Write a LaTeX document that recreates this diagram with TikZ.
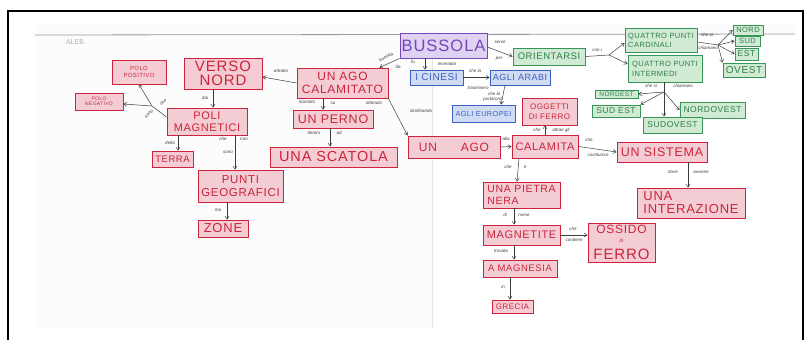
\documentclass[tikz,border=0pt]{standalone}
\usepackage{fontspec}
\setmainfont{Liberation Sans}
\newfontfamily\hand[LetterSpace=6]{Liberation Sans}
\usetikzlibrary{arrows.meta}
\definecolor{rline}{RGB}{205,35,60}
\definecolor{rfill}{RGB}{243,205,211}
\definecolor{gline}{RGB}{55,150,85}
\definecolor{gfill}{RGB}{208,234,212}
\definecolor{bline}{RGB}{60,95,195}
\definecolor{bfill}{RGB}{208,220,243}
\definecolor{pline}{RGB}{115,70,185}
\definecolor{pfill}{RGB}{224,210,243}
\definecolor{ink}{RGB}{60,60,60}
\tikzset{
  cbox/.style={draw, line width=0.9pt, inner sep=1pt, align=center},
  rbox/.style={cbox, draw=rline, fill=rfill, text=rline},
  gbox/.style={cbox, draw=gline, fill=gfill, text=gline!85!black},
  bbox/.style={cbox, draw=bline, fill=bfill, text=bline},
  pbox/.style={cbox, draw=pline, fill=pfill, text=pline},
  fs/.style 2 args={font=\hand\fontsize{#1}{#2}\selectfont},
  lab/.style={font=\itshape\fontsize{4.5}{5}\selectfont, text=ink, inner sep=0.3pt},
  conn/.style={draw=ink, line width=0.5pt},
  arr/.style={conn, -{Straight Barb[length=3pt,width=4pt]}},
}
\begin{document}
\begin{tikzpicture}[x=1pt,y=-1pt]
\useasboundingbox (0,0) rectangle (811,340);
% paper and frame
\fill[black!1.2] (35,23) rectangle (795,328);
\fill[white] (432,36) rectangle (795,328);
\draw[black!40, line width=0.8pt] (35,35) -- (795,34);
\draw[black!10, line width=0.6pt] (432,36) -- (432,328);
\draw[black, line width=1.6pt] (8,340) -- (8,11) -- (803,11) -- (803,340);
\node[text=black!30, font=\fontsize{7}{7}\selectfont] (aleb) at (76,42) {ALEB.};

% red nodes
\node[rbox, minimum width=54, minimum height=24, fs={6}{6.5}] (posit) at (139,72) {POLO\\POSITIVO};
\node[rbox, minimum width=78, minimum height=31, fs={15}{14}] (verso) at (223,73.5) {VERSO\\NORD};
\node[rbox, minimum width=48, minimum height=17, fs={5}{5.5}] (negat) at (99,101.5) {POLO\\NEGATIVO};
\node[rbox, minimum width=80, minimum height=27, fs={11}{11.5}] (poli) at (207,121.5) {POLI\\MAGNETICI};
\node[rbox, minimum width=91, minimum height=30, fs={12}{13}] (agocal) at (342.5,83) {UN AGO\\CALAMITATO};
\node[rbox, minimum width=80, minimum height=18, fs={12.5}{13}] (perno) at (333,119) {UN PERNO};
\node[rbox, minimum width=127, minimum height=20, fs={14.5}{15}] (scatola) at (333.5,157) {UNA SCATOLA};
\node[rbox, minimum width=41, minimum height=16, fs={9.5}{10}] (terra) at (172.5,159) {TERRA};
\node[rbox, minimum width=85, minimum height=32, fs={11.5}{13}] (punti) at (240.5,186) {PUNTI\\GEOGRAFICI};
\node[rbox, minimum width=50, minimum height=17, fs={13}{13}] (zone) at (223,228.5) {ZONE};
\node[rbox, minimum width=92, minimum height=22, fs={12}{12}] (unago) at (454,147) {UN\hspace{24pt}AGO};
\node[rbox, minimum width=66, minimum height=23, fs={11}{12}] (calamita) at (545,146.5) {CALAMITA};
\node[rbox, minimum width=90, minimum height=20, fs={12.5}{13}] (sistema) at (662,152) {UN SISTEMA};
\node[rbox, minimum width=108, minimum height=30, fs={13}{13}, align=left] (interaz) at (691,203) {UNA\\INTERAZIONE};
\node[rbox, minimum width=77, minimum height=26, fs={10.5}{12}, align=left] (pietra) at (521.5,195) {UNA PIETRA\\NERA};
\node[rbox, minimum width=77, minimum height=20, fs={11}{12}] (magnetite) at (521.5,235) {MAGNETITE};
\node[rbox, minimum width=67, minimum height=39, fs={12}{9}] (ossido) at (621.5,242.5) {OSSIDO\\{\fontsize{5}{5}\selectfont di}\\[5pt]{\fontsize{15}{15}\selectfont FERRO}};
\node[rbox, minimum width=74, minimum height=17, fs={9.5}{10}] (magnesia) at (520,268.5) {A MAGNESIA};
\node[rbox, minimum width=41, minimum height=13, fs={8}{8}] (grecia) at (512.5,306.5) {GRECIA};
\node[rbox, minimum width=55, minimum height=27, fs={8}{10}] (oggetti) at (549.5,111.5) {OGGETTI\\DI FERRO};

% purple and blue nodes
\node[pbox, minimum width=87, minimum height=25, fs={16.5}{17}] (bussola) at (443.5,45.5) {BUSSOLA};
\node[bbox, minimum width=53, minimum height=15, fs={10}{10}] (cinesi) at (436.5,77.5) {I CINESI};
\node[bbox, minimum width=60, minimum height=15, fs={9}{9}] (arabi) at (520,77.5) {AGLI ARABI};
\node[bbox, minimum width=63, minimum height=17, fs={7.3}{8}] (europei) at (483.5,113.5) {AGLI EUROPEI};

% green nodes
\node[gbox, minimum width=72, minimum height=17, fs={9.5}{10}] (orient) at (549,56.5) {ORIENTARSI};
\node[gbox, minimum width=72, minimum height=24, fs={7.5}{9}, align=left] (cardin) at (661,40) {QUATTRO PUNTI\\CARDINALI};
\node[gbox, minimum width=74, minimum height=27, fs={7.5}{10}, align=left] (interm) at (665,68.5) {QUATTRO PUNTI\\INTERMEDI};
\node[gbox, minimum width=30, minimum height=10, inner sep=0.5pt, fs={7.5}{7.5}] (nord) at (748,30) {NORD};
\node[gbox, minimum width=25, minimum height=10, inner sep=0.5pt, fs={7.5}{7.5}] (sud) at (747.5,41) {SUD};
\node[gbox, minimum width=23, minimum height=12, inner sep=0.5pt, fs={8.5}{8.5}] (est) at (746.5,54) {EST};
\node[gbox, minimum width=42, minimum height=14, fs={10}{10}] (ovest) at (744,70) {OVEST};
\node[gbox, minimum width=43, minimum height=8, inner sep=0.5pt, fs={6.5}{6.5}] (nordest) at (616.5,94) {NORDEST};
\node[gbox, minimum width=48, minimum height=12, inner sep=0.5pt, fs={8.5}{8.5}] (sudest) at (616,111) {SUD EST};
\node[gbox, minimum width=65, minimum height=16, fs={8.5}{9}] (nordovest) at (712.5,110) {NORDOVEST};
\node[gbox, minimum width=59, minimum height=16, fs={8.5}{9}] (sudovest) at (672.5,125) {SUDOVEST};

% connectors left half
\draw[arr] (agocal.west) -- (verso.east |- 0,77);
\node[lab] (l1) at (281,71) {attratto};
\draw[arr] (verso.south -| 213,0) -- (poli.north -| 213,0);
\node[lab] (l2) at (205,98) {dai};
\coordinate (fp) at (152,106);
\draw[conn] (poli.west |- 0,117) -- (fp);
\draw[arr] (fp) -- (posit.south -| 139,0);
\draw[arr] (fp) -- (negat.east |- 0,104);
\node[lab, rotate=40] (l3) at (163,102) {che};
\node[lab, rotate=40] (l4) at (149,114) {sono};
\draw[arr] (poli.south -| 178,0) -- (terra.north -| 178,0);
\node[lab] (l5) at (170,143) {della};
\draw[arr] (poli.south -| 235,0) -- (punti.north -| 235,0);
\node[lab] (l6) at (223,139) {che};
\node[lab] (l7) at (244,139) {non};
\node[lab] (l8) at (228,152) {sono};
\draw[arr] (punti.south -| 227,0) -- (zone.north -| 227,0);
\node[lab] (l9) at (218,210) {ma};
\draw[arr] (agocal.south -| 323,0) -- (perno.north -| 323,0);
\node[lab] (l10) at (307,102) {montato};
\node[lab] (l11) at (333,103) {su};
\draw[arr] (perno.south -| 330,0) -- (scatola.north -| 330,0);
\node[lab] (l12) at (314,133) {dentro};
\node[lab] (l13) at (339,133) {ad};
\draw[arr] (agocal.south east) -- (unago.north west);
\node[lab] (l14) at (374,103) {ottenuto};
\node[lab] (l15) at (421,111) {strofinando};

% bussola connectors
\draw[arr] (bussola.south west) -- ([xshift=-9]agocal.north east);
\node[lab, rotate=28] (l16) at (386,57) {formata};
\node[lab] (l17) at (398,67) {da};
\draw[arr] (bussola.south -| 425,0) -- (cinesi.north -| 425,0);
\node[lab] (l18) at (413,62) {fu};
\node[lab] (l19) at (447,64) {inventata};
\draw[arr] (cinesi.east) -- (arabi.west);
\node[lab] (l20) at (475,71) {che la};
\node[lab] (l21) at (478,88) {trasmisero};
\draw[arr] (arabi.south -| 505,0) -- (europei.north -| 501,0);
\node[lab] (l22) at (494,94) {che la};
\node[lab] (l23) at (493,100) {portarono};
\draw[arr] (bussola.east |- 0,47) -- (orient.west);
\node[lab] (l24) at (500,42) {serve};
\node[lab] (l25) at (499,59) {per};

% green connectors
\coordinate (f1) at (609,55);
\draw[conn] (orient.east) -- (f1);
\draw[arr] (f1) -- (cardin.west |- 0,43);
\draw[arr] (f1) -- (interm.west |- 0,64);
\node[lab] (l26) at (597,50) {con i};
\coordinate (f2) at (718,45);
\draw[conn] (cardin.east |- 0,42) -- (f2);
\draw[arr] (f2) -- (nord.west);
\draw[arr] (f2) -- (sud.west);
\draw[arr] (f2) -- (est.west);
\draw[arr] (f2) -- (ovest.north west);
\node[lab] (l27) at (707,35) {che si};
\node[lab] (l28) at (708,48) {chiamano};
\coordinate (f3) at (664,92);
\draw[conn] (interm.south -| 664,0) -- (f3);
\draw[arr] (f3) -- (nordest.east);
\draw[arr] (f3) -- (sudest.north east);
\draw[arr] (f3) -- (sudovest.north -| 664,0);
\draw[arr] (f3) -- (nordovest.west);
\node[lab] (l29) at (651,86) {che si};
\node[lab] (l30) at (683,86) {chiamano};

% right half red connectors
\draw[arr] (calamita.north) -- (oggetti.south -| calamita.north);
\node[lab] (l31) at (537,130) {che};
\node[lab] (l32) at (561,130) {attrae gli};
\draw[arr] (unago.east) -- (calamita.west);
\node[lab] (l33) at (506,139) {alla};
\draw[arr] (calamita.east) -- (sistema.west);
\node[lab] (l34) at (589,140) {che};
\node[lab] (l35) at (598,155) {costituisce};
\draw[arr] (sistema.south -| 688,0) -- (interaz.north -| 688,0);
\node[lab] (l36) at (673,172) {dove};
\node[lab] (l37) at (701,172) {avviene};
\draw[arr] (calamita.south -| 519,0) -- (pietra.north -| 517,0);
\node[lab] (l38) at (508,167) {che};
\node[lab] (l39) at (525,167) {è};
\draw[arr] (pietra.south -| 514,0) -- (magnetite.north -| 514,0);
\node[lab] (l40) at (505,215) {di};
\node[lab] (l41) at (524,215) {nome};
\draw[arr] (magnetite.east) -- (ossido.west |- magnetite.east);
\node[lab] (l42) at (573,229) {che};
\node[lab] (l43) at (574,240) {contiene};
\draw[arr] (magnetite.south -| 514,0) -- (magnesia.north -| 514,0);
\node[lab] (l44) at (501,251) {trovata};
\draw[arr] (magnesia.south -| 510,0) -- (grecia.north -| 510,0);
\node[lab] (l45) at (503,287) {in};
\end{tikzpicture}
\end{document}
